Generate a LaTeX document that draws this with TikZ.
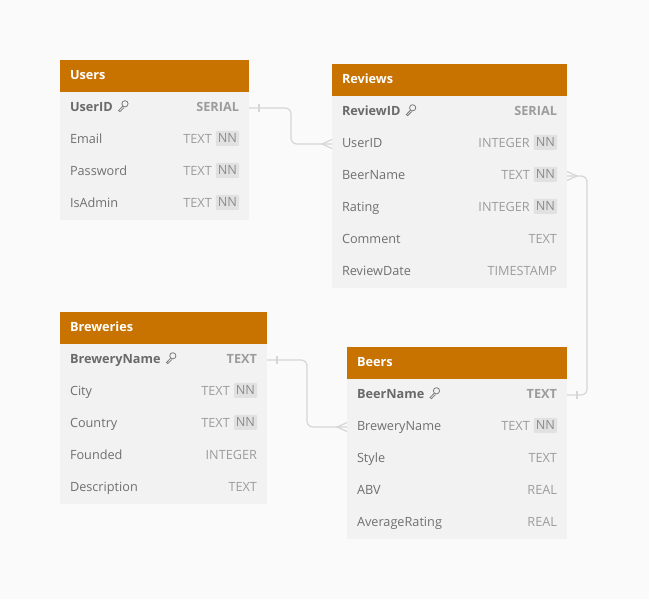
\documentclass[tikz,border=0pt]{standalone}
\usepackage{fontspec}
\setmainfont{Open Sans}
\usetikzlibrary{calc}
\definecolor{bgc}{HTML}{FAFAFA}
\definecolor{hdrc}{HTML}{C87200}
\definecolor{bodyc}{HTML}{F2F2F2}
\definecolor{namec}{HTML}{707070}
\definecolor{pkc}{HTML}{6A6A6A}
\definecolor{keyc}{HTML}{7A7A7A}
\definecolor{typec}{HTML}{9C9C9C}
\definecolor{nnbg}{HTML}{E1E1E1}
\definecolor{nnc}{HTML}{8C8C8C}
\definecolor{linec}{HTML}{D6D6D6}
\tikzset{
 every node/.style={inner sep=0pt, outer sep=0pt},
 hdr/.style={fill=hdrc, anchor=north west, minimum height=32pt},
 rowbox/.style={fill=bodyc, anchor=north west, minimum height=32pt},
 ttl/.style={anchor=base west, text=white, font=\fontsize{12.7}{15}\selectfont\bfseries},
 fname/.style={anchor=base west, text=namec, font=\fontsize{12.7}{15}\selectfont},
 pkname/.style={anchor=base west, text=pkc, font=\fontsize{12.7}{15}\selectfont\bfseries},
 ftype/.style={anchor=base east, text=typec, font=\fontsize{12.7}{15}\selectfont},
 pktype/.style={anchor=base east, text=typec, font=\fontsize{12.7}{15}\selectfont\bfseries},
 nnbadge/.style={anchor=east, fill=nnbg, text=nnc, inner xsep=2pt, minimum height=15pt, rounded corners=1pt, font=\fontsize{12.7}{15}\selectfont},
 conn/.style={draw=linec, line width=1.2pt},
 keyst/.style={draw=keyc, line width=0.8pt},
}
\newcommand\ertitle[5]{%
 \node[hdr, minimum width=#4pt] (#1) at (#2,#3) {};
 \node[ttl] (#1-t) at ([xshift=10pt,yshift=-3.4pt]#1.west) {#5};
}
\newcommand\errow[7]{%
 \node[rowbox, minimum width=#5pt] (#1-r#2) at (#3,#4) {};
 \node[fname] (#1-r#2-n) at ([xshift=10pt,yshift=-3.4pt]#1-r#2.west) {#6};
 \node[ftype] (#1-r#2-ty) at ([xshift=-10pt,yshift=-3.4pt]#1-r#2.east) {#7};
}
\newcommand\errownn[7]{%
 \node[rowbox, minimum width=#5pt] (#1-r#2) at (#3,#4) {};
 \node[fname] (#1-r#2-n) at ([xshift=10pt,yshift=-3.4pt]#1-r#2.west) {#6};
 \node[nnbadge] (#1-r#2-nn) at ([xshift=-10pt,yshift=1.6pt]#1-r#2.east) {NN};
 \node[ftype] (#1-r#2-ty) at ([xshift=-4pt,yshift=-5pt]#1-r#2-nn.west) {#7};
}
\newcommand\errowpk[7]{%
 \node[rowbox, minimum width=#5pt] (#1-r#2) at (#3,#4) {};
 \node[pkname] (#1-r#2-n) at ([xshift=10pt,yshift=-3.4pt]#1-r#2.west) {#6};
 \node[pktype] (#1-r#2-ty) at ([xshift=-10pt,yshift=-3.4pt]#1-r#2.east) {#7};
 \coordinate (#1-r#2-k) at ([xshift=5pt]#1-r#2-n.base east);
 \draw[keyst] ([shift={(7.2,-7.6)}]#1-r#2-k) circle (3.1pt);
 \draw[keyst] ([shift={(5,-5.2)}]#1-r#2-k) -- ([shift={(0.8,-0.8)}]#1-r#2-k)
   -- ([shift={(2.2,0.2)}]#1-r#2-k) -- ([shift={(6.2,-3.8)}]#1-r#2-k);
}
\newcommand\onetick[2]{%
 \draw[conn] ([shift={(#2,-4)}]#1) -- ([shift={(#2,4)}]#1);
}
\newcommand\crowfoot[2]{%
 \draw[conn] ([shift={(0,-4.5)}]#1) -- ([shift={(#2,0)}]#1) -- ([shift={(0,4.5)}]#1);
}
\begin{document}
\begin{tikzpicture}[x=1pt,y=-1pt]
\fill[bgc] (0,0) rectangle (649,599);
\useasboundingbox (0,0) rectangle (649,599);

% Users
\ertitle{users}{60}{60}{189}{Users}
\errowpk{users}{1}{60}{92}{189}{UserID}{SERIAL}
\errownn{users}{2}{60}{124}{189}{Email}{TEXT}
\errownn{users}{3}{60}{156}{189}{Password}{TEXT}
\errownn{users}{4}{60}{188}{189}{IsAdmin}{TEXT}

% Reviews
\ertitle{reviews}{332}{64}{235}{Reviews}
\errowpk{reviews}{1}{332}{96}{235}{ReviewID}{SERIAL}
\errownn{reviews}{2}{332}{128}{235}{UserID}{INTEGER}
\errownn{reviews}{3}{332}{160}{235}{BeerName}{TEXT}
\errownn{reviews}{4}{332}{192}{235}{Rating}{INTEGER}
\errow{reviews}{5}{332}{224}{235}{Comment}{TEXT}
\errow{reviews}{6}{332}{256}{235}{ReviewDate}{TIMESTAMP}

% Breweries
\ertitle{breweries}{60}{312}{207}{Breweries}
\errowpk{breweries}{1}{60}{344}{207}{BreweryName}{TEXT}
\errownn{breweries}{2}{60}{376}{207}{City}{TEXT}
\errownn{breweries}{3}{60}{408}{207}{Country}{TEXT}
\errow{breweries}{4}{60}{440}{207}{Founded}{INTEGER}
\errow{breweries}{5}{60}{472}{207}{Description}{TEXT}

% Beers
\ertitle{beers}{347}{347}{220}{Beers}
\errowpk{beers}{1}{347}{379}{220}{BeerName}{TEXT}
\errownn{beers}{2}{347}{411}{220}{BreweryName}{TEXT}
\errow{beers}{3}{347}{443}{220}{Style}{TEXT}
\errow{beers}{4}{347}{475}{220}{ABV}{REAL}
\errow{beers}{5}{347}{507}{220}{AverageRating}{REAL}

% connectors
\draw[conn, rounded corners=6pt] (users-r1.east) -- ([xshift=42pt]users-r1.east) |- (reviews-r2.west);
\onetick{users-r1.east}{10}
\crowfoot{reviews-r2.west}{-10}

\draw[conn, rounded corners=6pt] (reviews-r3.east) -- ([xshift=20pt]reviews-r3.east) |- (beers-r1.east);
\crowfoot{reviews-r3.east}{10}
\onetick{beers-r1.east}{10}

\draw[conn, rounded corners=6pt] (breweries-r1.east) -- ([xshift=40pt]breweries-r1.east) |- (beers-r2.west);
\onetick{breweries-r1.east}{10}
\crowfoot{beers-r2.west}{-10}
\end{tikzpicture}
\end{document}
